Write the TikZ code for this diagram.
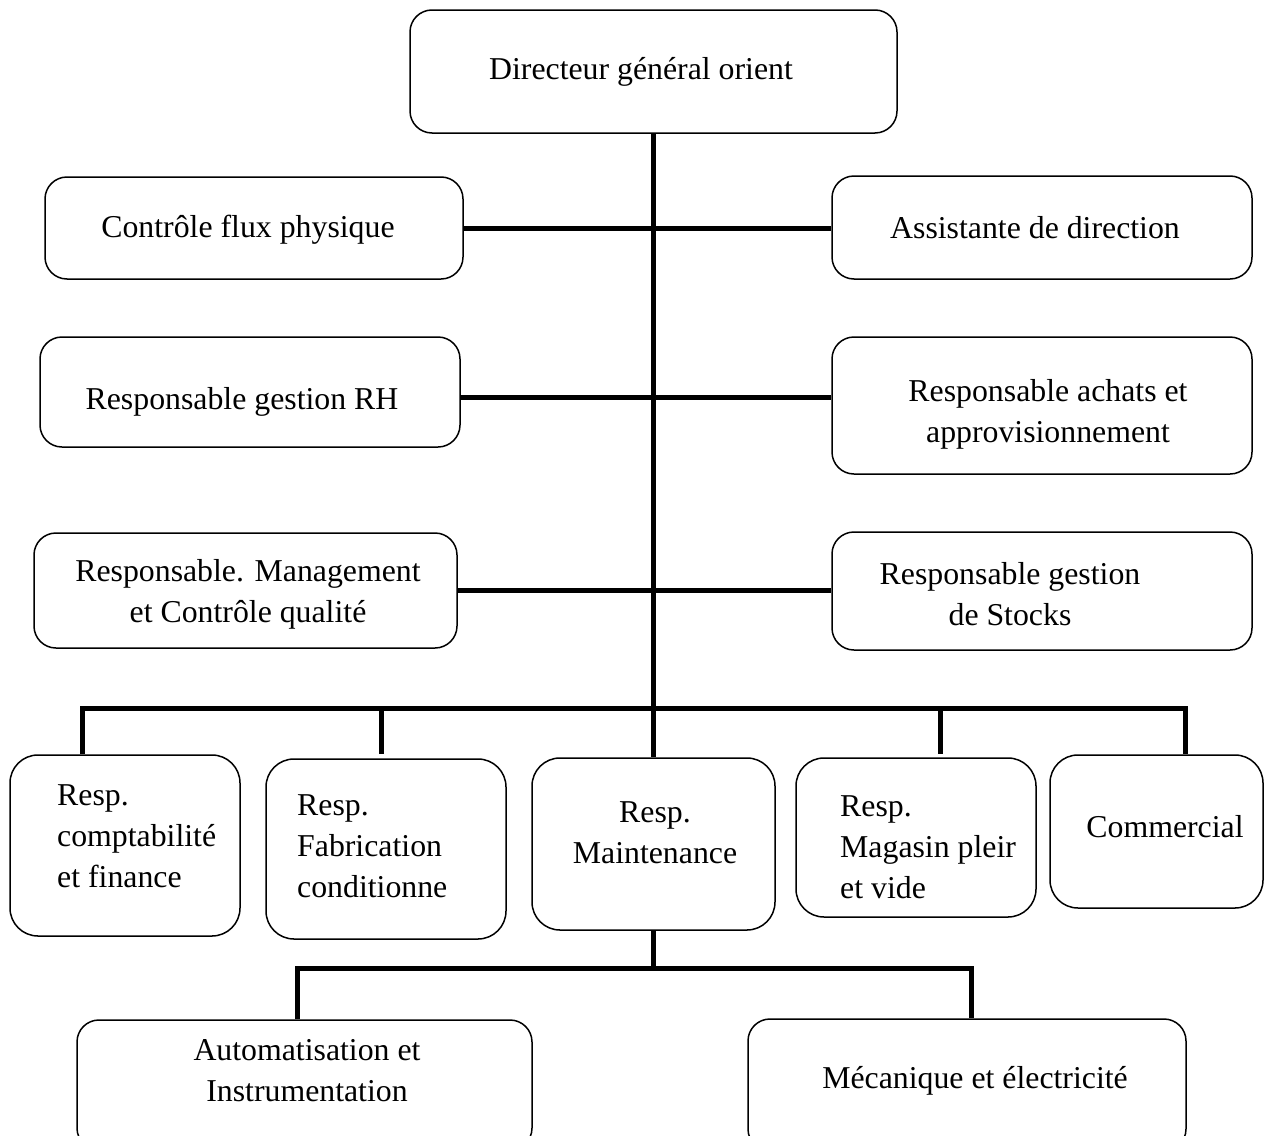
\documentclass[tikz,border=0pt]{standalone}
\usepackage{fontspec}
\setmainfont{Liberation Serif}
\begin{document}
\begin{tikzpicture}[x=1pt,y=-1pt,
  box/.style={draw=black,line width=1.5pt,rounded corners=22pt,fill=white,inner sep=0pt},
  tallbox/.style={box,rounded corners=28pt},
  conn/.style={draw=black,line width=5pt},
  lbl/.style={inner sep=0pt,font=\fontsize{31.8}{41}\selectfont},
]
\useasboundingbox (0,0) rectangle (1266,1135);
\clip (0,0) rectangle (1266,1135);

% boxes
\node[box,minimum width=487pt,minimum height=123pt] (dir) at (653.5,71.5) {};
\node[box,minimum width=418pt,minimum height=102pt] (ctrl) at (254,228) {};
\node[box,minimum width=420pt,minimum height=103pt] (asst) at (1042,227.5) {};
\node[box,minimum width=420pt,minimum height=110pt] (rh) at (250,392) {};
\node[box,minimum width=420pt,minimum height=137pt] (achat) at (1042,405.5) {};
\node[box,minimum width=423pt,minimum height=115pt] (mgmt) at (245.5,590.5) {};
\node[box,minimum width=420pt,minimum height=118pt] (stock) at (1042,591) {};
\node[tallbox,minimum width=230pt,minimum height=181pt] (compta) at (125,845.5) {};
\node[tallbox,minimum width=240pt,minimum height=180pt] (fab) at (386,849) {};
\node[tallbox,minimum width=243pt,minimum height=172pt] (maint) at (653.5,844) {};
\node[tallbox,minimum width=240pt,minimum height=159pt] (mag) at (916,837.5) {};
\node[tallbox,minimum width=213pt,minimum height=153pt] (comm) at (1156.5,831.5) {};
\node[box,minimum width=455pt,minimum height=130pt] (auto) at (304.5,1085) {};
\node[box,minimum width=438pt,minimum height=132pt] (meca) at (967,1085) {};

% labels
\node[lbl] (tdir) at (641,71.5) {Directeur général orient};
\node[lbl] (tctrl) at (248,230) {Contrôle flux physique};
\node[lbl] (tasst) at (1035,227.5) {Assistante de direction};
\node[lbl] (trh) at (242,402) {Responsable gestion RH};
\node[lbl,align=center] (tachat) at (1048,414) {Responsable achats et\\approvisionnement};
\node[lbl,align=center] (tmgmt) at (248,594) {Responsable. Management\\et Contrôle qualité};
\node[lbl,align=center] (tstock) at (1010,594) {Responsable gestion\\de Stocks};
\node[lbl,align=left,anchor=west] (tcompta) at (57,836.5) {Resp.\\comptabilité\\et finance};
\node[lbl,align=left,anchor=west] (tfab) at (297,846.5) {Resp.\\Fabrication\\conditionne};
\node[lbl,align=center] (tmaint) at (655,833) {Resp.\\Maintenance};
\node[lbl,align=left,anchor=west] (tmag) at (840,847) {Resp.\\Magasin pleir\\et vide};
\node[lbl] (tcomm) at (1165,827) {Commercial};
\node[lbl,align=center] (tauto) at (307,1071) {Automatisation et\\Instrumentation};
\node[lbl] (tmeca) at (975,1081) {Mécanique et électricité};

% junction points
\coordinate (j2) at (653.5,397);
\coordinate (bl) at (82,708);
\coordinate (b2) at (381,708);
\coordinate (b4) at (940,708);
\coordinate (br) at (1185,708);
\coordinate (ml) at (297,968);
\coordinate (mr) at (971,968);

% connectors
\draw[conn] (dir.south) -- (maint.north);
\draw[conn] (ctrl.east) -- (ctrl.east -| asst.west);
\draw[conn] (rh.east |- j2) -- (achat.west |- j2);
\draw[conn] (mgmt.east) -- (mgmt.east -| stock.west);
\draw[conn] (bl |- compta.north) -- (bl) -- (br) -- (br |- comm.north);
\draw[conn] (b2) -- (b2 |- compta.north);
\draw[conn] (b4) -- (b4 |- compta.north);
\draw[conn] (maint.south) -- (maint.south |- ml);
\draw[conn] (ml |- auto.north) -- (ml) -- (mr) -- (mr |- meca.north);
\end{tikzpicture}
\end{document}
